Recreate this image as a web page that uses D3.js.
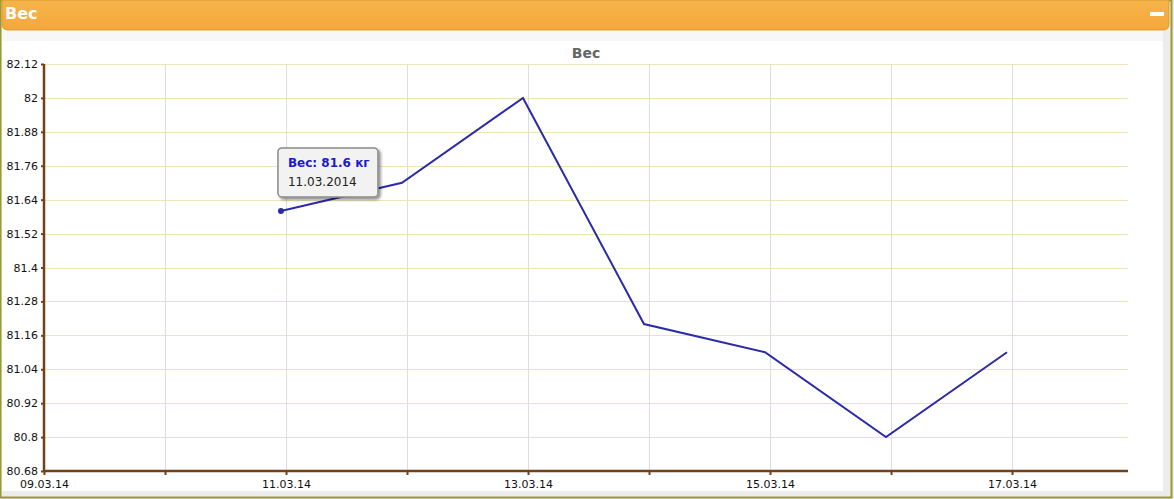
<!DOCTYPE html>
<html><head><meta charset="utf-8">
<script src="https://cdn.jsdelivr.net/npm/d3@7"></script>
<style>
html,body{margin:0;padding:0;background:#fff;}
svg{display:block;font-family:"DejaVu Sans",Verdana,sans-serif;}
</style></head>
<body>
<svg id="c" width="1174" height="499"></svg>
<script>
// Data
const dates = ["2014-03-10T23:00","2014-03-11T23:00","2014-03-12T23:00","2014-03-13T23:00","2014-03-14T23:00","2014-03-15T23:00","2014-03-16T23:00"];
const weights = [81.6, 81.7, 82.0, 81.2, 81.1, 80.8, 81.1];
const yTicks = [80.68, 80.8, 80.92, 81.04, 81.16, 81.28, 81.4, 81.52, 81.64, 81.76, 81.88, 82, 82.12];
const xDomain = ["2014-03-09T00:00", "2014-03-17T23:00"];
const title = "Вес";
const tooltipLabel = "Вес: 81.6 кг";
const tooltipDate = "11.03.2014";

(function(){
const parse = d3.timeParse("%Y-%m-%dT%H:%M");
const svg = d3.select("#c");
const W = 1174, H = 499;

// Frame
svg.append("rect").attr("x",0).attr("y",0).attr("width",W).attr("height",H).attr("fill","#ececec");
svg.append("rect").attr("x",2).attr("y",2).attr("width",1161).attr("height",489).attr("fill","#fff");
svg.append("rect").attr("x",0.5).attr("y",0.5).attr("width",1171).attr("height",497)
  .attr("fill","none").attr("stroke","#9c9a2a").attr("stroke-width",2);

// Header
const defs = svg.append("defs");
const g = defs.append("linearGradient").attr("id","hg").attr("x1",0).attr("y1",0).attr("x2",0).attr("y2",1);
g.append("stop").attr("offset",0).attr("stop-color","#f6b44c");
g.append("stop").attr("offset",1).attr("stop-color","#f4a83c");
svg.append("path").attr("d","M2,0 H1169 V24 Q1169,30 1163,30 H8 Q2,30 2,24 Z")
  .attr("fill","url(#hg)").attr("stroke","#d99a30").attr("stroke-width",1);
svg.append("rect").attr("x",2).attr("y",31).attr("width",1161).attr("height",10).attr("fill","#f7f7f7");
svg.append("text").attr("x",5).attr("y",19).attr("fill","#fff").attr("font-weight","bold")
  .attr("font-size",16).text(title);
svg.append("rect").attr("x",1150).attr("y",12).attr("width",14).attr("height",4).attr("fill","#fff");

// Scales
const pl = 44, pr = 1128, pt = 64, pb = 471;
const x = d3.scaleTime().domain(xDomain.map(parse)).range([pl, pr]);
const y = d3.scaleLinear().domain([yTicks[0], yTicks[yTicks.length-1]]).range([pb, pt]);

// Title
svg.append("text").attr("x",586).attr("y",58).attr("text-anchor","middle").attr("fill","#666")
  .attr("font-weight","bold").attr("font-size",14).text(title);

// Gridlines
const days = d3.timeDay.range(parse("2014-03-10T00:00"), parse("2014-03-17T12:00"));
svg.append("g").selectAll("line").data(yTicks).join("line")
  .attr("x1",pl).attr("x2",pr).attr("y1",d=>Math.round(y(d))+0.5).attr("y2",d=>Math.round(y(d))+0.5)
  .attr("stroke","#efe3b8").attr("stroke-width",1);
svg.append("g").selectAll("line").data(days).join("line")
  .attr("x1",d=>Math.round(x(d))+0.5).attr("x2",d=>Math.round(x(d))+0.5).attr("y1",pt).attr("y2",pb)
  .attr("stroke","#dddddd").attr("stroke-width",1);

// Axes
const axisColor = "#734119";
const yAxis = svg.append("g").attr("transform",`translate(${pl},0)`)
  .call(d3.axisLeft(y).tickValues(yTicks).tickSize(3).tickPadding(3).tickFormat(d=>String(+d.toFixed(2))));
yAxis.select(".domain").attr("stroke",axisColor).attr("stroke-width",2.5).attr("d",`M0,${pt}V${pb+1}`);
yAxis.selectAll(".tick line").attr("stroke",axisColor).attr("stroke-width",2);
yAxis.selectAll("text").attr("fill","#111").attr("font-size",11).attr("font-family","'DejaVu Sans',Verdana,sans-serif");

const allDays = d3.timeDay.range(parse("2014-03-09T00:00"), parse("2014-03-17T12:00"));
const fmt = d3.timeFormat("%d.%m.%y");
const xAxis = svg.append("g").attr("transform",`translate(0,${pb})`)
  .call(d3.axisBottom(x).tickValues(allDays).tickSize(4).tickPadding(5)
    .tickFormat((d,i)=> i%2===0 ? fmt(d) : ""));
xAxis.select(".domain").attr("stroke",axisColor).attr("stroke-width",2.5).attr("d",`M${pl-1},0H${pr}`);
xAxis.selectAll(".tick line").attr("stroke",axisColor).attr("stroke-width",2);
xAxis.selectAll("text").attr("fill","#111").attr("font-size",11).attr("font-family","'DejaVu Sans',Verdana,sans-serif");

// Line
const pts = dates.map((d,i)=>({date:parse(d), v:weights[i]}));
svg.append("path").datum(pts)
  .attr("d", d3.line().x(d=>x(d.date)).y(d=>y(d.v)))
  .attr("fill","none").attr("stroke","#2b2ba8").attr("stroke-width",2);
svg.append("circle").attr("cx",x(pts[0].date)).attr("cy",y(pts[0].v)).attr("r",3).attr("fill","#2b2ba8");

// Tooltip
const tx = x(pts[0].date) - 3, ty = y(pts[0].v) - 63;
const f = defs.append("filter").attr("id","sh").attr("x","-20%").attr("y","-20%").attr("width","150%").attr("height","150%");
f.append("feDropShadow").attr("dx",2).attr("dy",2).attr("stdDeviation",1.5).attr("flood-color","#000").attr("flood-opacity",0.45);
const tt = svg.append("g").attr("transform",`translate(${tx},${ty})`);
tt.append("rect").attr("x",0).attr("y",0).attr("width",100).attr("height",49).attr("rx",4)
  .attr("fill","#f2f2f2").attr("stroke","#8a8a8a").attr("stroke-width",1.5).attr("filter","url(#sh)");
tt.append("text").attr("x",10).attr("y",19).attr("fill","#1a1acc").attr("font-weight","bold")
  .attr("font-size",12).text(tooltipLabel);
tt.append("text").attr("x",10).attr("y",38).attr("fill","#222").attr("font-size",12).text(tooltipDate);
})();
</script>
</body></html>
